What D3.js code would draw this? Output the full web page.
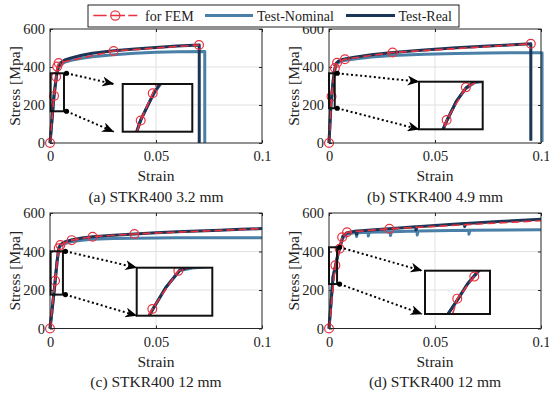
<!DOCTYPE html>
<html><head><meta charset="utf-8">
<script src="https://cdn.jsdelivr.net/npm/d3@7"></script>
<style>
body{margin:0;background:#fff;}
svg{display:block;}
svg text{font-family:"Liberation Serif","Times New Roman",serif;font-weight:normal;}
</style></head><body>
<svg id="chart" width="549" height="394" font-family="Liberation Serif, Times New Roman, serif"></svg>
<script>
// ---------- DATA ----------
const xTicks=[0,0.05,0.1];
const xTickLabels=["0","0.05","0.1"];
const yTicks=[0,200,400,600];
const yTickLabels=["0","200","400","600"];
const gridX=[0.05], gridY=[200,400];
const seriesNames=["for FEM","Test-Nominal","Test-Real"];
const captions=["(a) STKR400 3.2 mm","(b) STKR400 4.9 mm","(c) STKR400 12 mm","(d) STKR400 12 mm"];
const xLabel="Strain", yLabel="Stress [Mpa]";

// (a) 3.2 mm
const femA_x=[0,0.0019,0.0029,0.0034,0.0041,0.0300,0.0703];
const femA_y=[0,248,349,402,421,484,516];
const realA_x=[0,0.00157,0.0019,0.0025,0.0030,0.0035,0.0040,0.0050,0.0070,0.010,0.015,0.020,0.030,0.040,0.050,0.060,0.0704,0.0704];
const realA_y=[0,207,250,305,350,383,403,422,437,448,462,472,485,495,503,510,516,0];
const nomA_x=[0,0.00157,0.0019,0.0025,0.0030,0.0035,0.0040,0.0050,0.0070,0.010,0.015,0.020,0.030,0.040,0.050,0.060,0.073,0.073];
const nomA_y=[0,207,250,304,348,380,398,414,426,435,446,454,465,472,477,480,482,0];
const zoomA=[0.0003,0.0066,167,367];
const insetA=[0.0004,0.0062,207,383];

// (b) 4.9 mm
const femB_x=[0,0.0012,0.0028,0.0038,0.0075,0.0300,0.0952];
const femB_y=[0,245,395,422,441,476,522];
const realB_x=[0,0.0009,0.0012,0.0020,0.0028,0.0035,0.0045,0.006,0.008,0.012,0.02,0.03,0.045,0.06,0.075,0.0952,0.0952];
const realB_y=[0,202,240,330,392,421,431,438,444,452,464,476,490,501,510,522,12];
const nomB_x=[0,0.0009,0.0012,0.0020,0.0028,0.0035,0.0045,0.006,0.008,0.012,0.02,0.03,0.045,0.06,0.075,0.09,0.1005,0.1005];
const nomB_y=[0,202,240,329,390,416,424,431,436,442,452,461,467,471,474,475,475,5];
const zoomB=[0,0.0027,183,367];
const insetB=[-0.0011,0.0042,202,421];

// (c) 12 mm
const femC_x=[0,0.0024,0.0041,0.0049,0.0102,0.0201,0.0398,0.1];
const femC_y=[0,248,417,434,459,477,491,519];
const realC_x=[0,0.0022,0.0024,0.0033,0.0042,0.005,0.007,0.010,0.015,0.020,0.030,0.040,0.050,0.060,0.070,0.080,0.090,0.1];
const realC_y=[0,218,243,345,421,436,450,460,470,477,485,491,497,502,507,511,515,519];
const nomC_x=[0,0.0022,0.0024,0.0033,0.0042,0.005,0.007,0.010,0.015,0.020,0.030,0.040,0.050,0.060,0.070,0.080,0.090,0.1];
const nomC_y=[0,218,243,344,418,430,441,450,458,463,467,469,470,471,471,471,471,471];
const zoomC=[0.0003,0.0061,176,401];
const insetC=[0.00138,0.00632,218,431];

// (d) 12 mm
const femD_x=[0,0.0030,0.0050,0.0062,0.0085,0.0285,0.1];
const femD_y=[0,328,414,474,500,518,560];
const realD_x=[0,0.0019,0.0030,0.0042,0.0055,0.0065,0.0085,0.011,0.013,0.013,0.0135,0.02,0.03,0.041,0.041,0.0415,0.05,0.064,0.064,0.0645,0.08,0.1];
const realD_y=[0,268,322,385,437,478,498,503,506,490,507,512,520,528,512,528,535,546,530,546,556,567];
const nomD_x=[0,0.0019,0.0030,0.0042,0.0055,0.0065,0.0085,0.011,0.013,0.013,0.0135,0.0185,0.0185,0.019,0.029,0.029,0.0295,0.0416,0.0416,0.042,0.066,0.066,0.0665,0.1];
const nomD_y=[0,268,322,385,435,470,490,496,498,478,498,500,480,500,503,483,503,506,486,506,510,490,510,513];
const zoomD=[0,0.0038,231,422];
const insetD=[-0.0008,0.00685,268,437];

// ---------- STYLE / LAYOUT ----------
const FONT="Liberation Serif, Times New Roman, serif";
const C_FEM="#e8323f", C_NOM="#4a80a8", C_REAL="#1c3455", C_TXT="#222";
const zip=(xs,ys)=>xs.map((x,i)=>[x,ys[i]]);
const panels=[
 {fem:zip(femA_x,femA_y),real:zip(realA_x,realA_y),nom:zip(nomA_x,nomA_y),zoom:zoomA,inset:insetA,
  L:50,R:262,T:29,B:143,ins:[122.7,84,192.3,131.7],gap:9,cap:captions[0]},
 {fem:zip(femB_x,femB_y),real:zip(realB_x,realB_y),nom:zip(nomB_x,nomB_y),zoom:zoomB,inset:insetB,
  L:329,R:541,T:29,B:143,ins:[419,81.7,482.7,129.3],gap:0,cap:captions[1]},
 {fem:zip(femC_x,femC_y),real:zip(realC_x,realC_y),nom:zip(nomC_x,nomC_y),zoom:zoomC,inset:insetC,
  L:50,R:262,T:213,B:328.5,ins:[136.7,267.7,212.3,315.7],gap:0,cap:captions[2]},
 {fem:zip(femD_x,femD_y),real:zip(realD_x,realD_y),nom:zip(nomD_x,nomD_y),zoom:zoomD,inset:insetD,
  L:329,R:541,T:213,B:328.5,ins:[425,270.7,490,314],gap:3,cap:captions[3]}
];

const svg=d3.select("#chart");
const defs=svg.append("defs");
defs.append("marker").attr("id","arrowhead").attr("viewBox","0 0 12 10")
  .attr("refX",11.5).attr("refY",5).attr("markerWidth",12).attr("markerHeight",10)
  .attr("markerUnits","userSpaceOnUse").attr("orient","auto")
  .append("path").attr("d","M0,0 L12,5 L0,10 L3.5,5 Z").attr("fill","#000");

function drawSeries(g,x,y,p,dom){
  const line=d3.line().x(d=>x(d[0])).y(d=>y(d[1]));
  g.append("path").datum(p.nom).attr("d",line).attr("fill","none")
    .attr("stroke",C_NOM).attr("stroke-width",3).attr("stroke-linejoin","round");
  g.append("path").datum(p.real).attr("d",line).attr("fill","none")
    .attr("stroke",C_REAL).attr("stroke-width",3).attr("stroke-linejoin","round");
  g.append("path").datum(p.fem).attr("d",line).attr("fill","none")
    .attr("stroke",C_FEM).attr("stroke-width",1.6).attr("stroke-dasharray","8,4");
  // markers only where the point lies inside the axes limits (as in MATLAB)
  const inside=d=>d[0]>=dom[0]&&d[0]<dom[1]-1e-6&&d[1]>=dom[2]&&d[1]<=dom[3];
  g.selectAll(null).data(p.fem.filter(inside)).enter().append("circle")
    .attr("cx",d=>x(d[0])).attr("cy",d=>y(d[1])).attr("r",4.4)
    .attr("fill","none").attr("stroke",C_FEM).attr("stroke-width",1.2);
}

function styleText(sel,size){
  return sel.attr("font-family",FONT).attr("font-size",size).attr("font-weight","normal").attr("fill",C_TXT);
}

panels.forEach((p,pi)=>{
  const x=d3.scaleLinear().domain([0,0.1]).range([p.L,p.R]);
  const y=d3.scaleLinear().domain([0,600]).range([p.B,p.T]);
  const g=svg.append("g");
  // grid
  g.selectAll(null).data(gridX).enter().append("line")
    .attr("x1",d=>x(d)).attr("x2",d=>x(d)).attr("y1",p.T).attr("y2",p.B)
    .attr("stroke","#e1e1e1").attr("stroke-width",1);
  g.selectAll(null).data(gridY).enter().append("line")
    .attr("y1",d=>y(d)).attr("y2",d=>y(d)).attr("x1",p.L).attr("x2",p.R)
    .attr("stroke","#e1e1e1").attr("stroke-width",1);
  // axes
  const ax=g.append("g").attr("transform",`translate(0,${p.B})`)
    .call(d3.axisBottom(x).tickValues(xTicks).tickFormat((d,i)=>xTickLabels[i]).tickSizeInner(-3).tickSizeOuter(0).tickPadding(8));
  const ay=g.append("g").attr("transform",`translate(${p.L},0)`)
    .call(d3.axisLeft(y).tickValues(yTicks).tickFormat((d,i)=>yTickLabels[i]).tickSizeInner(-3).tickSizeOuter(0).tickPadding(5));
  const at=g.append("g").attr("transform",`translate(0,${p.T})`)
    .call(d3.axisTop(x).tickValues(xTicks).tickFormat("").tickSizeInner(-3).tickSizeOuter(0));
  const ar=g.append("g").attr("transform",`translate(${p.R},0)`)
    .call(d3.axisRight(y).tickValues(yTicks).tickFormat("").tickSizeInner(-3).tickSizeOuter(0));
  [ax,ay,at,ar].forEach(a=>{
    a.attr("font-family",FONT);
    a.select(".domain").remove();
    a.selectAll("line").attr("stroke","#262626");
    styleText(a.selectAll("text"),14.5);
  });
  // curves
  drawSeries(g,x,y,p,[0,0.1,0,600]);
  // frame
  g.append("rect").attr("x",p.L).attr("y",p.T).attr("width",p.R-p.L).attr("height",p.B-p.T)
    .attr("fill","none").attr("stroke","#262626").attr("stroke-width",1);
  // labels
  styleText(g.append("text").attr("x",(p.L+p.R)/2).attr("y",p.B+38).attr("text-anchor","middle"),15.5).text(xLabel);
  styleText(g.append("text").attr("transform",`translate(${p.L-30.5},${(p.T+p.B)/2}) rotate(-90)`)
    .attr("text-anchor","middle"),15.5).text(yLabel);
  styleText(g.append("text").attr("x",(p.L+p.R)/2).attr("y",p.B+58.5).attr("text-anchor","middle"),15.5).text(p.cap);

  // zoom box
  const zx0=x(p.zoom[0]), zx1=x(p.zoom[1]), zy0=y(p.zoom[3]), zy1=y(p.zoom[2]);
  g.append("rect").attr("x",zx0).attr("y",zy0).attr("width",zx1-zx0).attr("height",zy1-zy0)
    .attr("fill","none").attr("stroke","#111").attr("stroke-width",2);
  // inset
  const [iL,iT,iR,iB]=p.ins;
  const xi=d3.scaleLinear().domain([p.inset[0],p.inset[1]]).range([iL,iR]);
  const yi=d3.scaleLinear().domain([p.inset[2],p.inset[3]]).range([iB,iT]);
  const cid="clip"+pi;
  defs.append("clipPath").attr("id",cid).append("rect")
    .attr("x",iL).attr("y",iT).attr("width",iR-iL).attr("height",iB-iT);
  const gi=g.append("g").attr("clip-path",`url(#${cid})`);
  drawSeries(gi,xi,yi,p,p.inset);
  g.append("rect").attr("x",iL).attr("y",iT).attr("width",iR-iL).attr("height",iB-iT)
    .attr("fill","none").attr("stroke","#111").attr("stroke-width",2);
  // arrows
  const starts=[[zx1+2.5,zy0],[zx1+2.5,zy1]];
  const ends=[[iL-p.gap,iT],[iL-p.gap,iB]];
  starts.forEach((s,k)=>{
    g.append("line").attr("x1",s[0]).attr("y1",s[1]).attr("x2",ends[k][0]).attr("y2",ends[k][1])
      .attr("stroke","#000").attr("stroke-width",2).attr("stroke-dasharray","2,2.6")
      .attr("marker-end","url(#arrowhead)");
    g.append("circle").attr("cx",s[0]).attr("cy",s[1]).attr("r",2.6).attr("fill","#000");
  });
});

// legend
const lg=svg.append("g");
lg.append("rect").attr("x",88).attr("y",5).attr("width",371).attr("height",22)
  .attr("fill","#fff").attr("stroke","#222").attr("stroke-width",1);
const legItems=[
  {name:seriesNames[0],x1:93.3,x2:137.3,tx:145,color:C_FEM,w:1.6,dash:"13.4,4.3,14,3.3,9",marker:true},
  {name:seriesNames[1],x1:205,x2:253,tx:257,color:C_NOM,w:3,dash:null,marker:false},
  {name:seriesNames[2],x1:346,x2:395,tx:398.5,color:C_REAL,w:3,dash:null,marker:false}
];
legItems.forEach(it=>{
  lg.append("line").attr("x1",it.x1).attr("x2",it.x2).attr("y1",15.5).attr("y2",15.5)
    .attr("stroke",it.color).attr("stroke-width",it.w).attr("stroke-dasharray",it.dash);
  if(it.marker) lg.append("circle").attr("cx",(it.x1+it.x2)/2).attr("cy",15.5).attr("r",4.6)
    .attr("fill","none").attr("stroke",it.color).attr("stroke-width",1.2);
  styleText(lg.append("text").attr("x",it.tx).attr("y",20.5),14).text(it.name);
});
</script></body></html>
